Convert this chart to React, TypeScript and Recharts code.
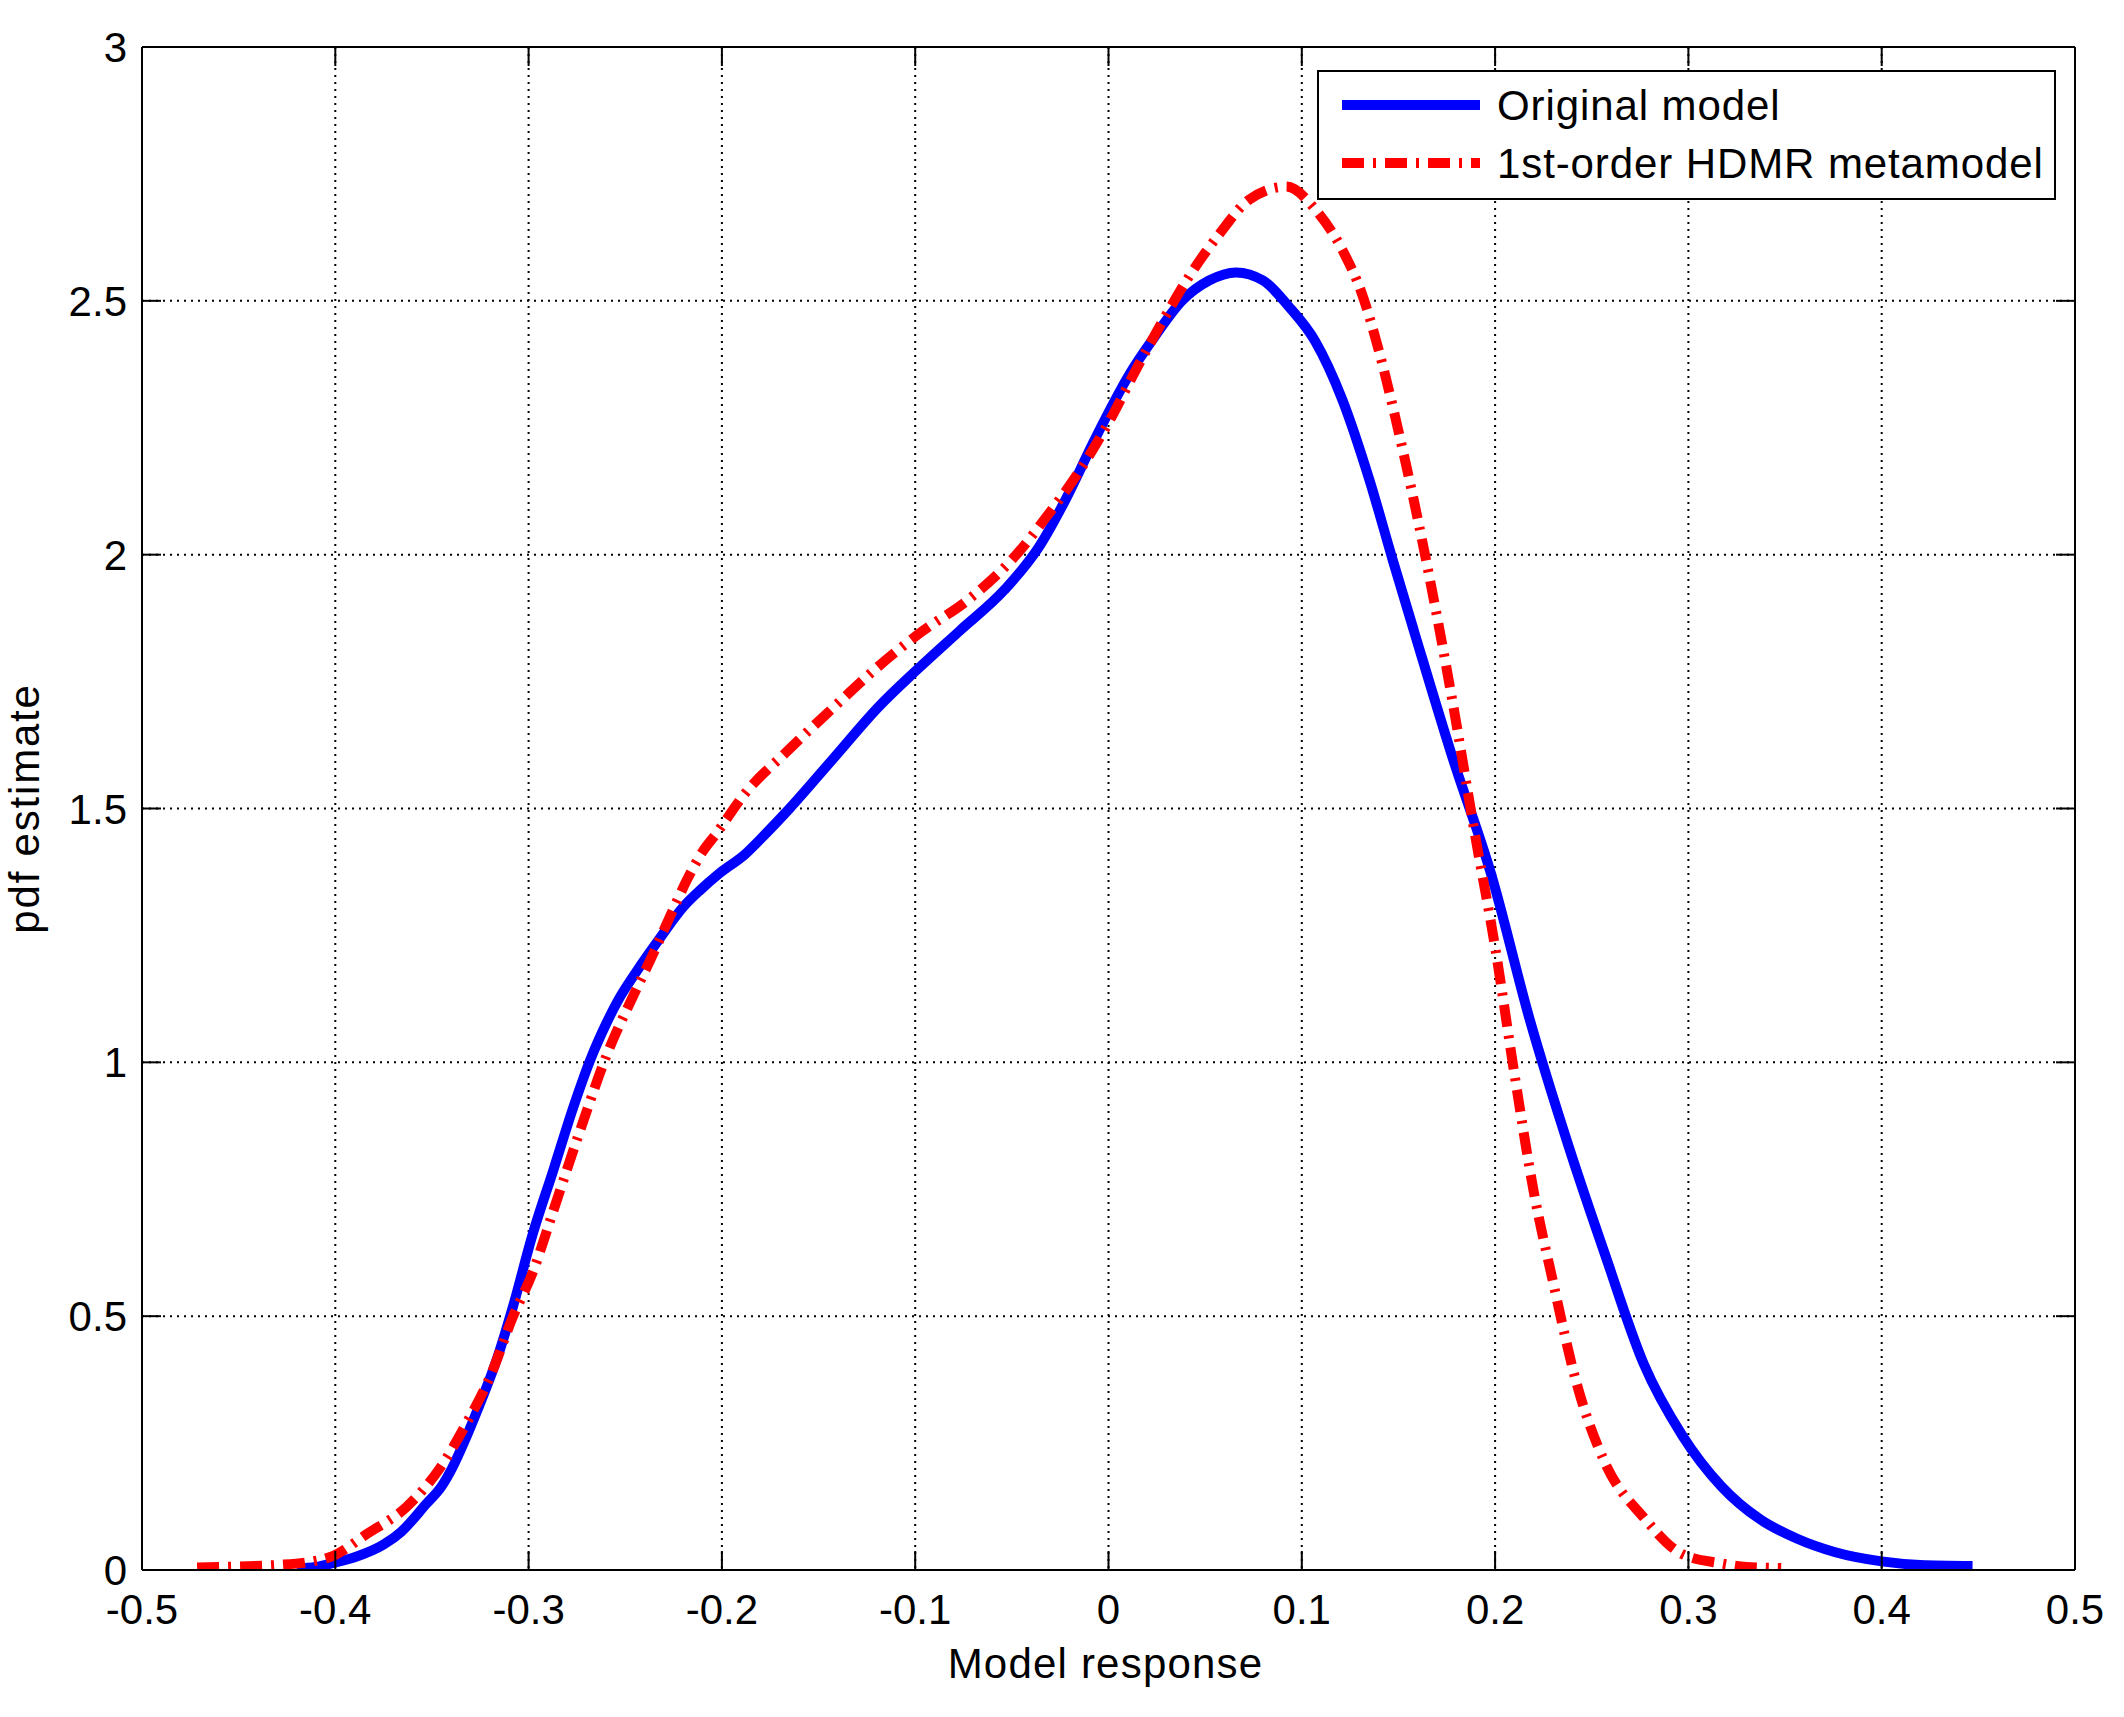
import React from 'react';
import { LineChart, Line, XAxis, YAxis, CartesianGrid, Legend } from 'recharts';

// axis ticks
const xTicks = [-0.5, -0.4, -0.3, -0.2, -0.1, 0, 0.1, 0.2, 0.3, 0.4, 0.5];
const yTicks = [0, 0.5, 1, 1.5, 2, 2.5, 3];

// Original model pdf
const originalX = [
  -0.42, -0.41, -0.401, -0.39, -0.375, -0.366, -0.353, -0.345, -0.339, -0.333,
  -0.327, -0.316, -0.308, -0.298, -0.287, -0.277, -0.272, -0.267, -0.26, -0.254,
  -0.244, -0.232, -0.22, -0.211, -0.201, -0.188, -0.18, -0.165, -0.142, -0.119,
  -0.1, -0.077, -0.054, -0.036, -0.022, -0.008, 0, 0.01, 0.024, 0.038,
  0.052, 0.066, 0.08, 0.093, 0.107, 0.121, 0.135, 0.147, 0.158, 0.178,
  0.198, 0.218, 0.238, 0.257, 0.277, 0.297, 0.317, 0.337, 0.356, 0.376,
  0.4, 0.42, 0.447,
];
const originalY = [
  0.003, 0.006, 0.014, 0.025, 0.05, 0.075, 0.13, 0.165, 0.205, 0.255,
  0.31, 0.42, 0.52, 0.66, 0.79, 0.91, 0.965, 1.015, 1.075, 1.12,
  1.18, 1.245, 1.306, 1.34, 1.373, 1.41, 1.44, 1.5, 1.6, 1.7,
  1.77, 1.85, 1.93, 2.015, 2.11, 2.22, 2.28, 2.35, 2.43, 2.5,
  2.54, 2.556, 2.54, 2.49, 2.42, 2.305, 2.147, 1.99, 1.85, 1.6,
  1.37, 1.083, 0.835, 0.62, 0.405, 0.264, 0.165, 0.1, 0.062, 0.035,
  0.017, 0.01, 0.008,
];

// 1st-order HDMR metamodel pdf
const hdmrX = [
  -0.4715, -0.45, -0.43, -0.415, -0.401, -0.384, -0.363, -0.346, -0.332, -0.32,
  -0.308, -0.298, -0.287, -0.273, -0.259, -0.246, -0.236, -0.227, -0.218, -0.21,
  -0.203, -0.188, -0.167, -0.142, -0.119, -0.096, -0.073, -0.05, -0.031, -0.015,
  0, 0.015, 0.028, 0.042, 0.057, 0.073, 0.092, 0.107, 0.121, 0.131,
  0.14, 0.149, 0.164, 0.178, 0.19, 0.2, 0.21, 0.22, 0.23, 0.242,
  0.257, 0.277, 0.297, 0.317, 0.33, 0.348,
];
const hdmrY = [
  0.005, 0.007, 0.01, 0.015, 0.028, 0.07, 0.125, 0.2, 0.29, 0.38,
  0.5, 0.585, 0.71, 0.87, 1.02, 1.13, 1.21, 1.286, 1.36, 1.415,
  1.45, 1.53, 1.61, 1.7, 1.78, 1.85, 1.91, 1.99, 2.08, 2.165,
  2.26, 2.37, 2.46, 2.55, 2.63, 2.7, 2.725, 2.68, 2.6, 2.515,
  2.4, 2.26, 1.995, 1.71, 1.44, 1.227, 0.977, 0.745, 0.567, 0.37,
  0.21, 0.103, 0.031, 0.013, 0.006, 0.004,
];

const toPoints = (xs: number[], ys: number[]) => xs.map((x, i) => ({ x, y: ys[i] }));

const series = [
  { name: 'Original model', color: '#0000FF', dash: undefined as string | undefined, data: toPoints(originalX, originalY) },
  { name: '1st-order HDMR metamodel', color: '#FF0000', dash: '22 9 3 9', data: toPoints(hdmrX, hdmrY) },
];

const FONT = '"Liberation Sans", Arial, Helvetica, sans-serif';
const FS = 42;
const TICK_LEN = 19;

const BottomTick = ({ x, y, payload }: any) => (
  <g>
    <line x1={x} x2={x} y1={y} y2={y - TICK_LEN} stroke="#000" strokeWidth={2} />
    <text x={x} y={y + 54} textAnchor="middle" fontFamily={FONT} fontSize={FS} fill="#000">
      {String(payload.value)}
    </text>
  </g>
);

const TopTick = ({ x, y }: any) => (
  <line x1={x} x2={x} y1={y} y2={y + TICK_LEN} stroke="#000" strokeWidth={2} />
);

const LeftTick = ({ x, y, payload }: any) => (
  <g>
    <line x1={x} x2={x + TICK_LEN} y1={y} y2={y} stroke="#000" strokeWidth={2} />
    <text x={x - 15} y={y + 15} textAnchor="end" fontFamily={FONT} fontSize={FS} fill="#000">
      {String(payload.value)}
    </text>
  </g>
);

const RightTick = ({ x, y }: any) => (
  <line x1={x} x2={x - TICK_LEN} y1={y} y2={y} stroke="#000" strokeWidth={2} />
);

const XTitle = ({ viewBox }: any) => (
  <text
    x={viewBox.x + viewBox.width / 2 - 3}
    y={viewBox.y + 108}
    textAnchor="middle"
    fontFamily={FONT}
    fontSize={FS}
    letterSpacing={1.2}
    fill="#000"
  >
    Model response
  </text>
);

const YTitle = ({ viewBox }: any) => {
  const cx = viewBox.x + 39;
  const cy = viewBox.y + viewBox.height / 2;
  return (
    <text
      x={cx}
      y={cy}
      transform={`rotate(-90 ${cx} ${cy})`}
      textAnchor="middle"
      fontFamily={FONT}
      fontSize={FS}
      letterSpacing={1.8}
      fill="#000"
    >
      pdf estimate
    </text>
  );
};

const LegendBox = () => (
  <svg width={739} height={130} style={{ display: 'block' }}>
    <rect x={1} y={1} width={737} height={128} fill="#fff" stroke="#000" strokeWidth={2} />
    {series.map((s, i) => {
      const cy = 35 + i * 58;
      return (
        <g key={s.name}>
          <line x1={25} x2={163} y1={cy} y2={cy} stroke={s.color} strokeWidth={10} strokeDasharray={s.dash} />
          <text x={180} y={cy + 15} fontFamily={FONT} fontSize={FS} letterSpacing={0.9} fill="#000">
            {s.name}
          </text>
        </g>
      );
    })}
  </svg>
);

export default function App() {
  return (
    <div style={{ position: 'absolute', left: 0, top: 0, background: '#fff' }}>
      <LineChart width={2124} height={1717} margin={{ top: 46, right: 48, bottom: 0, left: 0 }}>
        <CartesianGrid stroke="#000" strokeWidth={2} strokeDasharray="2 5" />
        <XAxis
          dataKey="x"
          type="number"
          domain={[-0.5, 0.5]}
          ticks={xTicks}
          interval={0}
          height={147}
          tickSize={0}
          tickMargin={0}
          tickLine={false}
          tick={<BottomTick />}
          axisLine={{ stroke: '#000', strokeWidth: 2 }}
          allowDataOverflow
          label={<XTitle />}
        />
        <XAxis
          xAxisId="top"
          orientation="top"
          dataKey="x"
          type="number"
          domain={[-0.5, 0.5]}
          ticks={xTicks}
          interval={0}
          height={1}
          tickSize={0}
          tickMargin={0}
          tickLine={false}
          tick={<TopTick />}
          axisLine={{ stroke: '#000', strokeWidth: 2 }}
          allowDataOverflow
        />
        <YAxis
          type="number"
          domain={[0, 3]}
          ticks={yTicks}
          interval={0}
          width={142}
          tickSize={0}
          tickMargin={0}
          tickLine={false}
          tick={<LeftTick />}
          axisLine={{ stroke: '#000', strokeWidth: 2 }}
          allowDataOverflow
          label={<YTitle />}
        />
        <YAxis
          yAxisId="right"
          orientation="right"
          type="number"
          domain={[0, 3]}
          ticks={yTicks}
          interval={0}
          width={1}
          tickSize={0}
          tickMargin={0}
          tickLine={false}
          tick={<RightTick />}
          axisLine={{ stroke: '#000', strokeWidth: 2 }}
          allowDataOverflow
        />
        {series.map((s) => (
          <Line
            key={s.name}
            name={s.name}
            data={s.data}
            dataKey="y"
            type="monotone"
            stroke={s.color}
            strokeWidth={10}
            strokeDasharray={s.dash}
            dot={false}
            activeDot={false}
            isAnimationActive={false}
          />
        ))}
        <Legend
          layout="horizontal"
          verticalAlign="middle"
          align="center"
          content={<LegendBox />}
          wrapperStyle={{ left: 1317, top: 70, width: 739, height: 130 }}
        />
      </LineChart>
    </div>
  );
}
